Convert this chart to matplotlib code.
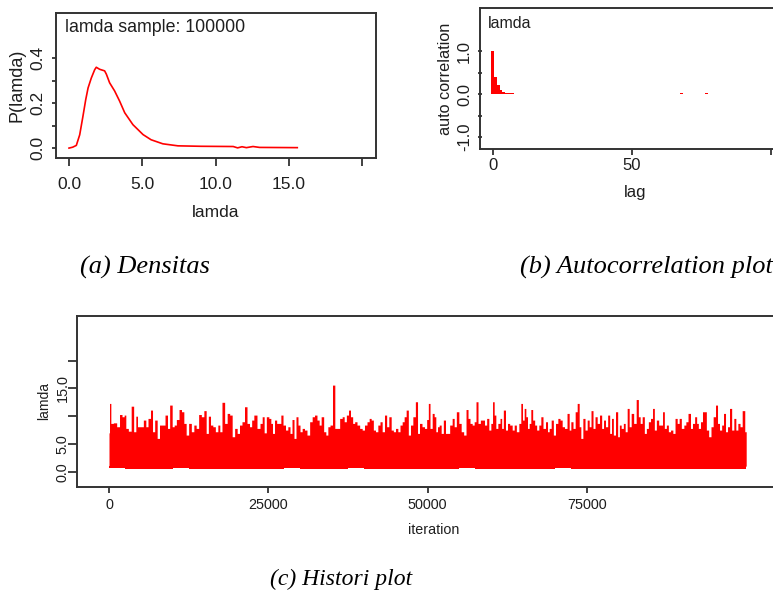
import matplotlib
matplotlib.use("Agg")
import matplotlib.pyplot as plt

plt.rcParams["font.family"] = ["Liberation Sans", "DejaVu Sans"]

RED = "#ff0000"
INK = "#1e1e1e"
FRAME = "#333333"
SERIF = ["Liberation Serif", "DejaVu Serif"]

# (a) posterior density of lamda
dens_x = [0.0, 0.25, 0.5, 0.73, 0.95, 1.14, 1.3, 1.52, 1.75, 1.86, 2.09, 2.43, 2.55,
          2.77, 3.11, 3.45, 3.8, 4.36, 5.05, 5.6, 6.4, 7.43, 9.0, 11.2, 11.5, 11.8,
          12.1, 12.55, 13.0, 15.57]
dens_y = [0.0, 0.004, 0.012, 0.059, 0.141, 0.215, 0.267, 0.311, 0.348, 0.359, 0.35,
          0.343, 0.328, 0.29, 0.254, 0.209, 0.157, 0.104, 0.06, 0.037, 0.019, 0.01,
          0.008, 0.007, 0.001, 0.006, 0.002, 0.007, 0.003, 0.002]

# (b) autocorrelation by lag
acf_lag = [0, 1, 2, 3, 4, 5, 6, 7, 68, 77]
acf_val = [1.0, 0.40, 0.21, 0.09, 0.05, 0.04, 0.04, 0.04, 0.02, 0.02]

# (c) history: upper envelope of the trace (iteration, lamda)
trace_iter = [
    0, 160, 420, 940, 1470, 1830, 2250, 2510, 2770, 3300, 3660, 4080, 4340, 4600,
    5130, 5650, 5910, 6330, 6700, 6960, 7380, 7740, 8110, 8530, 9050, 9310, 9730,
    10100, 10360, 10780, 11200, 11560, 11930, 12290, 12710, 13130, 13500, 13860,
    14280, 14700, 15070, 15430, 15750, 16110, 16480, 16900, 17260, 17520, 17940,
    18360, 18730, 19150, 19510, 19930, 20300, 20660, 21080, 21450, 21870, 22230,
    22550, 22910,
    23540, 23860, 24220, 24480, 24900, 25270, 25530, 25790, 26160, 26470, 26840,
    27100, 27520, 27880, 28250, 28560, 28880, 29190, 29500, 29820, 30130, 30500,
    30860, 31280, 31700, 32070, 32430, 32850, 33110, 33480, 33900, 34160, 34530,
    34840, 35310, 35570, 35990, 36410, 36780, 37040, 37460, 37720, 38080, 38400,
    38710, 39130, 39550, 39910, 40280, 40700, 40960, 41330, 41640, 42010, 42370,
    42690, 43050, 43420, 43730, 44100, 44470, 44780, 45150, 45510, 45830, 46190,
    46450, 46820, 47130, 47500, 47870,
    48290, 48550, 48910, 49330, 49700, 50010, 50220, 50540, 50900, 51160, 51420,
    51690, 51950, 52310, 52630, 52990, 53260, 53670, 54040, 54300, 54720, 55090,
    55450, 55870, 56190, 56500, 56810, 57180, 57440, 57750, 58070, 58490, 58750,
    59110, 59430, 59790, 60060, 60320, 60580, 60840, 61210, 61520, 61730, 62040,
    62410, 62670, 63090, 63460, 63720, 64140, 64500, 64760, 65030, 65290, 65550,
    65810, 66070, 66330, 66650, 66960, 67270, 67640, 67900, 68320, 68690, 68950,
    69210, 69580, 69890, 70260, 70620, 70940, 71300, 71670, 72090, 72350, 72610,
    73030, 73290, 73660,
    73920, 74180, 74550, 74860, 75230, 75490, 75800, 76120, 76430, 76800, 77160,
    77480, 77740, 78100, 78420, 78730, 78990, 79310, 79670, 79990, 80200, 80560,
    80880, 81140, 81500, 81770, 82130, 82550, 82920, 83230, 83490, 83860, 84170,
    84490, 84800, 85170, 85430, 85740, 86060, 86470, 86740, 87000, 87310, 87630,
    87940, 88310, 88670, 88990, 89350, 89610, 90030, 90400, 90660, 91080, 91440,
    91700, 92120, 92330, 92650, 93010, 93270, 93590, 93900, 94320, 94630, 95000,
    95370, 95630, 95990, 96310, 96570, 96940, 97200, 97560, 97880, 98240, 98510,
    98870, 99190, 99550, 100000,
]
trace_hi = [
    7.0, 12.3, 8.7, 8.8, 8.1, 10.3, 9.9, 10.2, 7.8, 7.3, 11.8, 7.2, 10.0, 8.1,
    8.1, 9.3, 8.1, 9.6, 11.1, 7.2, 9.3, 6.0, 8.4, 8.4, 10.2, 7.8, 12.0,
    8.1, 8.4, 9.4, 11.2, 10.8, 8.7, 6.6, 8.7, 7.2, 8.4, 7.8,
    10.3, 9.9, 11.0, 6.9, 10.0, 8.4, 8.1, 7.2, 8.4, 7.2, 12.5,
    8.7, 10.5, 10.2, 6.3, 7.8, 6.9, 8.4, 9.0, 11.7, 8.7, 8.1,
    9.3, 10.2,
    7.8, 8.7, 9.9, 7.0, 9.9, 9.6, 8.7, 6.9, 9.3, 8.7, 8.7,
    10.2, 8.4, 7.5, 8.1, 6.9, 9.4, 6.0, 9.9, 8.4, 7.2, 7.8,
    7.5, 6.6, 9.0, 9.9, 10.2, 9.3, 8.4, 9.9, 7.2, 6.6, 8.1,
    8.4, 15.6, 7.8, 7.8, 9.6, 9.9, 9.0, 10.2, 11.1, 9.9, 8.7,
    9.0, 8.4, 7.8, 7.5, 8.4, 9.0, 9.6, 9.3, 7.5, 7.2, 8.4,
    9.0, 7.2, 10.2, 8.1, 9.9, 7.5, 7.2, 7.8, 7.2, 8.4, 9.0,
    9.9, 11.1, 6.6, 8.4, 9.9,
    12.6, 6.9, 8.7, 8.1, 7.8, 9.4, 12.3, 7.8, 10.5, 9.9, 7.2,
    8.1, 8.4, 6.9, 9.3, 6.9, 6.9, 8.4, 9.6, 8.1, 10.8, 8.7,
    7.2, 6.6, 11.2, 9.6, 8.7, 8.4, 9.0, 12.6, 8.7, 9.3, 9.3,
    8.4, 9.6, 7.5, 8.7, 12.6, 10.2, 7.8, 8.7, 9.6, 7.8, 11.1,
    7.5, 8.7, 8.4, 7.5, 8.4, 7.2, 8.7, 12.3, 9.3, 11.4, 9.9,
    7.8, 8.7, 11.2, 9.3, 8.4, 7.5, 8.4, 9.9, 7.8, 9.0, 7.2,
    7.8, 9.3, 6.6, 8.7, 9.6, 9.3, 8.1, 7.8, 10.5, 7.5, 9.0,
    7.8, 10.8, 12.3,
    8.1, 6.0, 9.6, 7.5, 9.3, 8.1, 11.0, 7.8, 9.9, 8.7, 10.2,
    7.8, 9.3, 8.1, 10.2, 6.9, 9.6, 6.6, 10.8, 6.3, 8.4, 7.8,
    8.7, 7.2, 11.4, 8.1, 10.5, 8.7, 13.0, 9.9, 8.7, 9.9, 6.9,
    7.8, 9.0, 9.6, 11.4, 7.5, 9.3, 8.4, 8.4, 10.8, 7.8, 8.4,
    7.2, 7.5, 6.9, 9.6, 8.7, 9.6, 7.8, 8.4, 9.0, 10.5, 7.8,
    8.7, 9.9, 8.7, 7.8, 9.0, 10.8, 10.8, 7.5, 6.3, 8.1, 9.9,
    12.0, 8.7, 7.5, 8.4, 10.5, 7.2, 8.1, 11.4, 7.5, 9.6, 7.5,
    8.7, 8.1, 11.0, 7.2,
]
# lower envelope of the trace, one value per 2500 iterations
low_iter = [0, 2500, 5000, 7500, 10000, 12500, 15000, 17500, 20000, 22500,
            25000, 27500, 30000, 32500, 35000, 37500, 40000, 42500, 45000, 47500,
            50000, 52500, 55000, 57500, 60000, 62500, 65000, 67500, 70000, 72500,
            75000, 77500, 80000, 82500, 85000, 87500, 90000, 92500, 95000, 97500]
low_val = [0.6, 0.5, 0.5, 0.5, 0.6, 0.5, 0.5, 0.5, 0.5, 0.4, 0.5, 0.6, 0.5, 0.5,
           0.5, 0.6, 0.5, 0.5, 0.5, 0.5, 0.5, 0.5, 0.6, 0.5, 0.5, 0.5, 0.5, 0.5,
           0.6, 0.5, 0.5, 0.4, 0.5, 0.5, 0.5, 0.5, 0.5, 0.5, 0.5, 0.5]

W, H = 773, 591


def place(x0, y0, x1, y1):
    """Axes rectangle from pixel box (left, top, right, bottom)."""
    return [x0 / W, 1 - y1 / H, (x1 - x0) / W, (y1 - y0) / H]


def style(ax, size, xpad, ypad, xlen=7, ylen=5, ydir="out"):
    for s in ax.spines.values():
        s.set_color(FRAME)
        s.set_linewidth(1.4)
    ax.tick_params(axis="x", colors=FRAME, labelcolor=INK, labelsize=size,
                   length=xlen * 0.72, width=1.3, pad=xpad)
    ax.tick_params(axis="y", colors=FRAME, labelcolor=INK, labelsize=size,
                   length=ylen * 0.72, width=1.3, pad=ypad, direction=ydir,
                   labelrotation=90)
    for lab in ax.get_yticklabels():
        lab.set_va("center")


fig = plt.figure(figsize=(W / 100, H / 100), dpi=100)

# ---- (a) density
ax1 = fig.add_axes(place(56, 13, 376, 158))
ax1.plot(dens_x, dens_y, color=RED, lw=1.2)
ax1.set_xlim(-0.887, 20.94)
ax1.set_ylim(-0.044, 0.6)
ax1.set_xticks([0, 5, 10, 15, 20], ["0.0", "5.0", "10.0", "15.0", ""])
ax1.set_yticks([0, 0.1, 0.2, 0.3, 0.4], ["0.0", "", "0.2", "", "0.4"])
style(ax1, 12.5, xpad=8, ypad=5, xlen=8, ylen=4)
ax1.set_xlabel("lamda", fontsize=12.5, color=INK, labelpad=9)
ax1.set_ylabel("P(lamda)", fontsize=13, color=INK, labelpad=3)
ax1.text(0.028, 0.903, "lamda sample: 100000", transform=ax1.transAxes,
         fontsize=12.8, color=INK, va="center", ha="left")

# ---- (b) autocorrelation
ax2 = fig.add_axes(place(480, 8.3, 790, 149))
ax2.bar(acf_lag, acf_val, width=1.0, color=RED, linewidth=0)
ax2.set_xlim(-4.57, 106.9)
ax2.set_ylim(-1.28, 2.01)
ax2.set_xticks([0, 50, 100], ["0", "50", ""])
ax2.set_yticks([-1, -0.5, 0, 0.5, 1], ["-1.0", "", "0.0", "", "1.0"])
style(ax2, 12, xpad=2, ypad=4, xlen=6, ylen=5, ydir="inout")
ax2.set_xlabel("lag", fontsize=12, color=INK, labelpad=9)
ax2.set_ylabel("auto correlation", fontsize=11.7, color=INK, labelpad=3)
ax2.text(0.026, 0.894, "lamda", transform=ax2.transAxes, fontsize=11.5,
         color=INK, va="center", ha="left")

# ---- (c) history
ax3 = fig.add_axes(place(77, 315.7, 790, 486.7))
ax3.bar(low_iter, [1.0 - v for v in low_val], bottom=low_val, width=2500,
        align="edge", color=RED, linewidth=0)
ax3.fill_between(trace_iter, 1.0, trace_hi, step="mid", color=RED, linewidth=0)
ax3.set_xlim(-5022, 106874)
ax3.set_ylim(-2.7, 28.1)
ax3.set_xticks([0, 25000, 50000, 75000], ["0", "25000", "50000", "75000"])
ax3.set_yticks([0, 5, 10, 15, 20], ["0.0", "5.0", "", "15.0", ""])
style(ax3, 10.4, xpad=4, ypad=-1, xlen=6, ylen=9)
ax3.set_xlabel("iteration", fontsize=10.3, color=INK, labelpad=8)
ax3.set_ylabel("lamda", fontsize=10, color=INK, labelpad=3)

# ---- captions
fig.text(80 / W, 1 - 267 / H, "(a) Densitas", family=SERIF, style="italic",
         fontsize=19, color="black", ha="left", va="center")
fig.text(520 / W, 1 - 267 / H, "(b) Autocorrelation plot", family=SERIF,
         style="italic", fontsize=19, color="black", ha="left", va="center")
fig.text(270 / W, 1 - 579 / H, "(c) Histori plot", family=SERIF, style="italic",
         fontsize=17, color="black", ha="left", va="center")

fig.savefig("out.png", dpi=100)
